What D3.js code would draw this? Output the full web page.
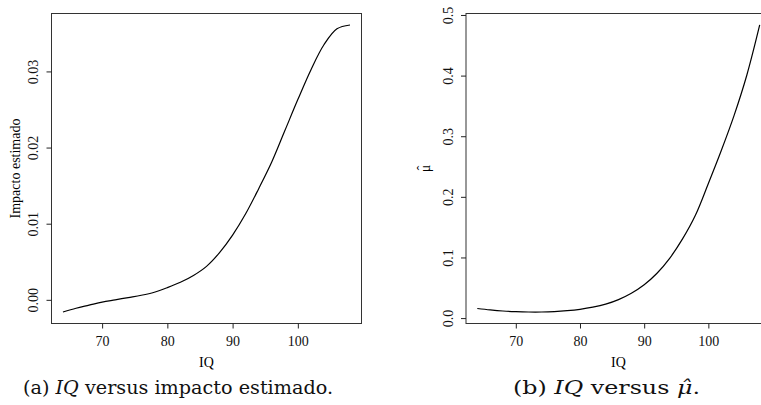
<!DOCTYPE html>
<html>
<head>
<meta charset="utf-8">
<script src="https://cdn.jsdelivr.net/npm/d3@7"></script>
<style>
  body { margin: 0; background: #fff; }
  svg { display: block; }
  .serif { font-family: 'Liberation Serif', 'Times New Roman', serif; }
</style>
</head>
<body>
<div id="wrapper"></div>
<script>
// valores
const iq = [64, 66, 68, 70, 72, 74, 76, 78, 80, 82, 84, 86, 88, 90, 92, 94, 96, 98, 100, 102, 104, 106, 108];
const impacto = [-0.0016, -0.0011, -0.0007, -0.0003, 0.0000, 0.0003, 0.0006, 0.0010, 0.0016, 0.0023,
  0.0032, 0.0044, 0.0062, 0.0085, 0.0113, 0.0146, 0.0181, 0.0222, 0.0263, 0.0302, 0.0335, 0.0356, 0.0361];
const muHat = [0.0158, 0.0135, 0.0117, 0.0106, 0.0100, 0.0100, 0.0107, 0.0122, 0.0145, 0.0180,
  0.0230, 0.0305, 0.0410, 0.0550, 0.0740, 0.0990, 0.1310, 0.1700, 0.2220, 0.2760, 0.3340, 0.4010, 0.4835];

const xTicks = [70, 80, 90, 100];
const yTicksA = [0.00, 0.01, 0.02, 0.03];
const yTicksB = [0.0, 0.1, 0.2, 0.3, 0.4, 0.5];

const fs = 14;
const width = 761, height = 405;
const svg = d3.select("#wrapper").append("svg")
  .attr("width", width)
  .attr("height", height);

// limites estilo R (4% de folga)
function rLim(ext) {
  const pad = (ext[1] - ext[0]) * 0.04;
  return [ext[0] - pad, ext[1] + pad];
}

function drawPanel(opts) {
  const x = d3.scaleLinear().domain(rLim(d3.extent(iq))).range([opts.left, opts.right]);
  const y = d3.scaleLinear().domain(rLim(d3.extent(opts.values))).range([opts.bottom, opts.top]);

  const g = svg.append("g");

  // caixa
  g.append("rect")
    .attr("x", opts.left).attr("y", opts.top)
    .attr("width", opts.right - opts.left).attr("height", opts.bottom - opts.top)
    .attr("fill", "none").attr("stroke", "#333").attr("stroke-width", 1);

  // eixo x
  const xAxis = g.append("g")
    .attr("transform", `translate(0,${opts.bottom})`)
    .call(d3.axisBottom(x).tickValues(xTicks).tickSize(5).tickPadding(8).tickFormat(d3.format("d")));
  xAxis.select(".domain").remove();
  xAxis.selectAll("line").attr("stroke", "#222");
  xAxis.selectAll("text")
    .attr("class", "serif")
    .style("font-size", fs + "px")
    .attr("fill", "#111");

  // eixo y (rótulos paralelos ao eixo, como no R)
  const yAxis = g.append("g")
    .attr("transform", `translate(${opts.left},0)`)
    .call(d3.axisLeft(y).tickValues(opts.yTicks).tickSize(5).tickFormat(d3.format(opts.fmt)));
  yAxis.select(".domain").remove();
  yAxis.selectAll("line").attr("stroke", "#222");
  yAxis.selectAll("text")
    .attr("x", null).attr("y", null).attr("dy", null)
    .attr("class", "serif")
    .style("font-size", fs + "px")
    .attr("fill", "#111")
    .attr("text-anchor", "middle")
    .attr("transform", `translate(${opts.tickLabelX - opts.left},0) rotate(-90)`);

  // curva
  g.append("path")
    .datum(iq.map((d, i) => [d, opts.values[i]]))
    .attr("fill", "none")
    .attr("stroke", "#000")
    .attr("stroke-width", 1.2)
    .attr("d", d3.line().x(d => x(d[0])).y(d => y(d[1])).curve(d3.curveCatmullRom.alpha(0.5)));

  // rótulo x
  g.append("text")
    .attr("class", "serif")
    .attr("x", (opts.left + opts.right) / 2)
    .attr("y", 366.5)
    .attr("text-anchor", "middle")
    .style("font-size", fs + "px")
    .text("IQ");

  // rótulo y
  const yl = g.append("g")
    .attr("transform", `translate(${opts.yLabelX},${(opts.top + opts.bottom) / 2}) rotate(-90)`);
  yl.append("text")
    .attr("class", "serif")
    .attr("text-anchor", "middle")
    .style("font-size", opts.yLabelSize + "px")
    .text(opts.yLabel);
  if (opts.hat) {
    yl.append("text")
      .attr("class", "serif")
      .attr("x", 0.5).attr("y", -3.5)
      .attr("text-anchor", "middle")
      .style("font-size", opts.yLabelSize + "px")
      .text("\u02C6");
  }

  // legenda
  const cap = svg.append("text")
    .attr("x", opts.capX).attr("y", 394)
    .attr("text-anchor", "middle")
    .style("font-family", "'DejaVu Serif', serif")
    .style("font-size", "18px")
    .attr("textLength", opts.capW)
    .attr("lengthAdjust", "spacingAndGlyphs")
    .attr("fill", "#111");
  opts.caption.forEach(p => {
    cap.append("tspan").attr("font-style", p.it ? "italic" : "normal").text(p.t);
  });
}

drawPanel({
  left: 51.5, right: 361.5, top: 13.5, bottom: 323.5,
  values: impacto, yTicks: yTicksA, fmt: ".2f",
  tickLabelX: 38, yLabelX: 20, yLabel: "Impacto estimado", yLabelSize: fs,
  capX: 178, capW: 310,
  caption: [{t: "(a) "}, {t: "IQ", it: true}, {t: " versus impacto estimado."}]
});

drawPanel({
  left: 466, right: 771, top: 13.5, bottom: 323.5,
  values: muHat, yTicks: yTicksB, fmt: ".1f",
  tickLabelX: 453, yLabelX: 430, yLabel: "\u03BC", yLabelSize: 14, hat: true,
  capX: 606.5, capW: 187,
  caption: [{t: "(b) "}, {t: "IQ", it: true}, {t: " versus "}, {t: "\u03BC\u0302", it: true}, {t: "."}]
});
</script>
</body>
</html>
